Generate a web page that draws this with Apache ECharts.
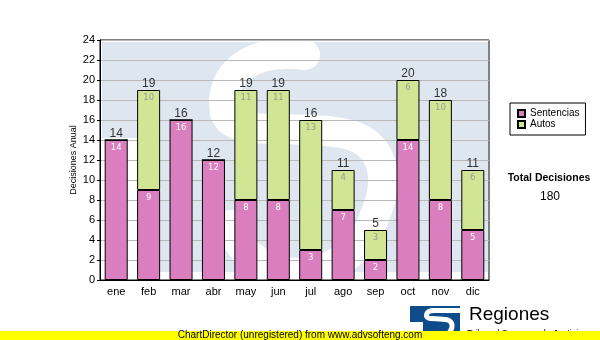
<!DOCTYPE html>
<html>
<head>
<meta charset="utf-8">
<script src="https://cdn.jsdelivr.net/npm/echarts@6/dist/echarts.min.js"></script>
<style>
  html, body { margin: 0; padding: 0; background: #fff; }
  #chart { width: 600px; height: 340px; }
</style>
</head>
<body>
<div id="chart"></div>
<script>
// Decisiones por mes, apiladas por tipo
const meses = ['ene', 'feb', 'mar', 'abr', 'may', 'jun', 'jul', 'ago', 'sep', 'oct', 'nov', 'dic'];
const sentencias = [14, 9, 16, 12, 8, 8, 3, 7, 2, 14, 8, 5];
const autos = [0, 10, 0, 0, 11, 11, 13, 4, 3, 6, 10, 6];
const yTicks = { min: 0, max: 24, interval: 2 };

const totales = meses.map((_, i) => sentencias[i] + autos[i]);
const totalDecisiones = totales.reduce((a, b) => a + b, 0);

const ROSA = '#db7ebf';
const VERDE = '#d0e694';
const FONT = '"Liberation Sans", Arial, sans-serif';
const SMALL = '"DejaVu Sans", Verdana, sans-serif';

// one stroked cubic segment of a logo outline
function curva(p, width, z) {
  return {
    type: 'bezierCurve', z: z, silent: true,
    shape: { x1: p[0], y1: p[1], cpx1: p[2], cpy1: p[3], cpx2: p[4], cpy2: p[5], x2: p[6], y2: p[7] },
    style: { stroke: '#fff', lineWidth: width, fill: null, lineCap: 'round' }
  };
}

const watermarkS = [
  [305, 55, 250, 48, 218, 75, 225, 112],
  [225, 112, 232, 140, 300, 122, 350, 135],
  [350, 135, 385, 145, 390, 180, 375, 215],
  [375, 215, 355, 285, 255, 295, 230, 225]
].map(p => curva(p, 30, -9));

const logoS = [
  [459, 310.5, 450, 310.5, 440, 310.5, 434, 310.5],
  [434, 310.5, 425, 310.5, 424, 318.5, 431, 318.5],
  [431, 318.5, 436, 318.8, 441, 319.2, 445, 319.5],
  [445, 319.5, 453, 320, 454, 327, 449, 333]
].map(p => curva(p, 5, 1));

const chart = echarts.init(document.getElementById('chart'), null, { renderer: 'canvas' });

chart.setOption({
  animation: false,
  backgroundColor: '#fff',
  textStyle: { fontFamily: FONT },
  grid: {
    left: 100, right: 111, top: 40, bottom: 60,
    show: true, borderColor: '#000', borderWidth: 1, backgroundColor: 'transparent'
  },
  legend: {
    data: ['Sentencias', 'Autos'],
    orient: 'vertical',
    left: 510, top: 103,
    padding: [5, 6, 5, 7],
    itemGap: 0,
    itemWidth: 7, itemHeight: 7,
    icon: 'rect',
    borderColor: '#000', borderWidth: 1, backgroundColor: '#fff',
    textStyle: { fontFamily: FONT, fontSize: 10, color: '#000', lineHeight: 11 },
    selectedMode: false
  },
  xAxis: {
    type: 'category',
    data: meses,
    axisLine: { lineStyle: { color: '#000', width: 1 } },
    axisTick: { alignWithLabel: true, length: 3, lineStyle: { color: '#000' } },
    axisLabel: { color: '#000', fontSize: 11, margin: 6, fontFamily: FONT },
    splitLine: { show: false }
  },
  yAxis: {
    type: 'value',
    min: yTicks.min, max: yTicks.max, interval: yTicks.interval,
    name: 'Decisiones Anual',
    nameLocation: 'middle',
    nameGap: 22,
    nameMoveOverlap: false,
    nameTextStyle: { color: '#000', fontSize: 9, fontFamily: FONT },
    axisLine: { show: true, lineStyle: { color: '#000', width: 1 } },
    axisTick: { show: true, length: 3, lineStyle: { color: '#000' } },
    axisLabel: { color: '#000', fontSize: 11, margin: 5, fontFamily: FONT },
    splitLine: { show: true, lineStyle: { color: '#b9b9b9', width: 1 } }
  },
  series: [
    {
      name: 'Sentencias',
      type: 'bar',
      stack: 'dec',
      barWidth: '71%',
      data: sentencias,
      itemStyle: { color: ROSA, borderColor: '#000', borderWidth: 1 },
      label: {
        show: true, position: 'insideTop', distance: 3,
        color: '#fff', fontSize: 8.5, fontFamily: SMALL,
        formatter: p => (p.value ? String(p.value) : '')
      },
      z: 2
    },
    {
      name: 'Autos',
      type: 'bar',
      stack: 'dec',
      barWidth: '71%',
      data: autos,
      itemStyle: { color: VERDE, borderColor: '#000', borderWidth: 1 },
      label: {
        show: true, position: 'insideTop', distance: 3,
        color: '#9a9a9a', fontSize: 8.5, fontFamily: SMALL,
        formatter: p => (p.value ? String(p.value) : '')
      },
      z: 2
    },
    {
      name: 'Total',
      type: 'scatter',
      data: totales,
      symbolSize: 1,
      itemStyle: { color: 'rgba(0,0,0,0)' },
      label: {
        show: true, position: 'top', distance: 0,
        color: '#000', fontSize: 12, fontFamily: FONT
      },
      silent: true,
      z: 5
    }
  ],
  graphic: [
    // watermark: light blue panel with a large white "S"
    {
      type: 'rect', z: -10, silent: true,
      shape: { x: 102, y: 42, width: 386, height: 230 },
      style: { fill: '#dee7f0' }
    },
    {
      type: 'rect', z: -9, silent: true,
      shape: { x: 102, y: 138, width: 51, height: 134 },
      style: { fill: '#fff' }
    }
  ].concat(watermarkS).concat([
    {
      type: 'rect', z: -8, silent: true,
      shape: { x: 102, y: 272, width: 386, height: 8 },
      style: { fill: '#fff' }
    },
    {
      type: 'rect', z: -8, silent: true,
      shape: { x: 488, y: 40, width: 20, height: 240 },
      style: { fill: '#fff' }
    },
    {
      type: 'rect', z: -8, silent: true,
      shape: { x: 100, y: 20, width: 400, height: 22 },
      style: { fill: '#fff' }
    },
    // side panel
    {
      type: 'text', silent: true,
      x: 549, y: 173,
      style: {
        text: 'Total Decisiones', fill: '#000',
        font: 'bold 10.5px ' + FONT, textAlign: 'center'
      }
    },
    {
      type: 'text', silent: true,
      x: 550, y: 191,
      style: {
        text: String(totalDecisiones), fill: '#000',
        font: '12px ' + FONT, textAlign: 'center'
      }
    },
    // logo
    {
      type: 'rect', silent: true, z: 0,
      shape: { x: 410, y: 306, width: 50, height: 26 },
      style: { fill: '#0f4c8c' }
    },
    {
      type: 'rect', silent: true, z: 1,
      shape: { x: 410, y: 322, width: 13, height: 10 },
      style: { fill: '#fff' }
    }
  ]).concat(logoS).concat([
    {
      type: 'text', silent: true,
      x: 469, y: 305,
      style: { text: 'Regiones', fill: '#000', font: '19px ' + FONT }
    },
    {
      type: 'text', silent: true,
      x: 467, y: 329,
      style: { text: 'Tribunal Supremo de Justicia', fill: '#000', font: '9px ' + FONT }
    },
    // footer
    {
      type: 'rect', silent: true, z: 10,
      shape: { x: 0, y: 331, width: 600, height: 9 },
      style: { fill: '#ffff00' }
    },
    {
      type: 'text', silent: true, z: 11,
      x: 300, y: 330,
      style: {
        text: 'ChartDirector (unregistered) from www.advsofteng.com',
        fill: '#000', font: '10px ' + FONT, textAlign: 'center'
      }
    }
  ])
});
</script>
</body>
</html>
